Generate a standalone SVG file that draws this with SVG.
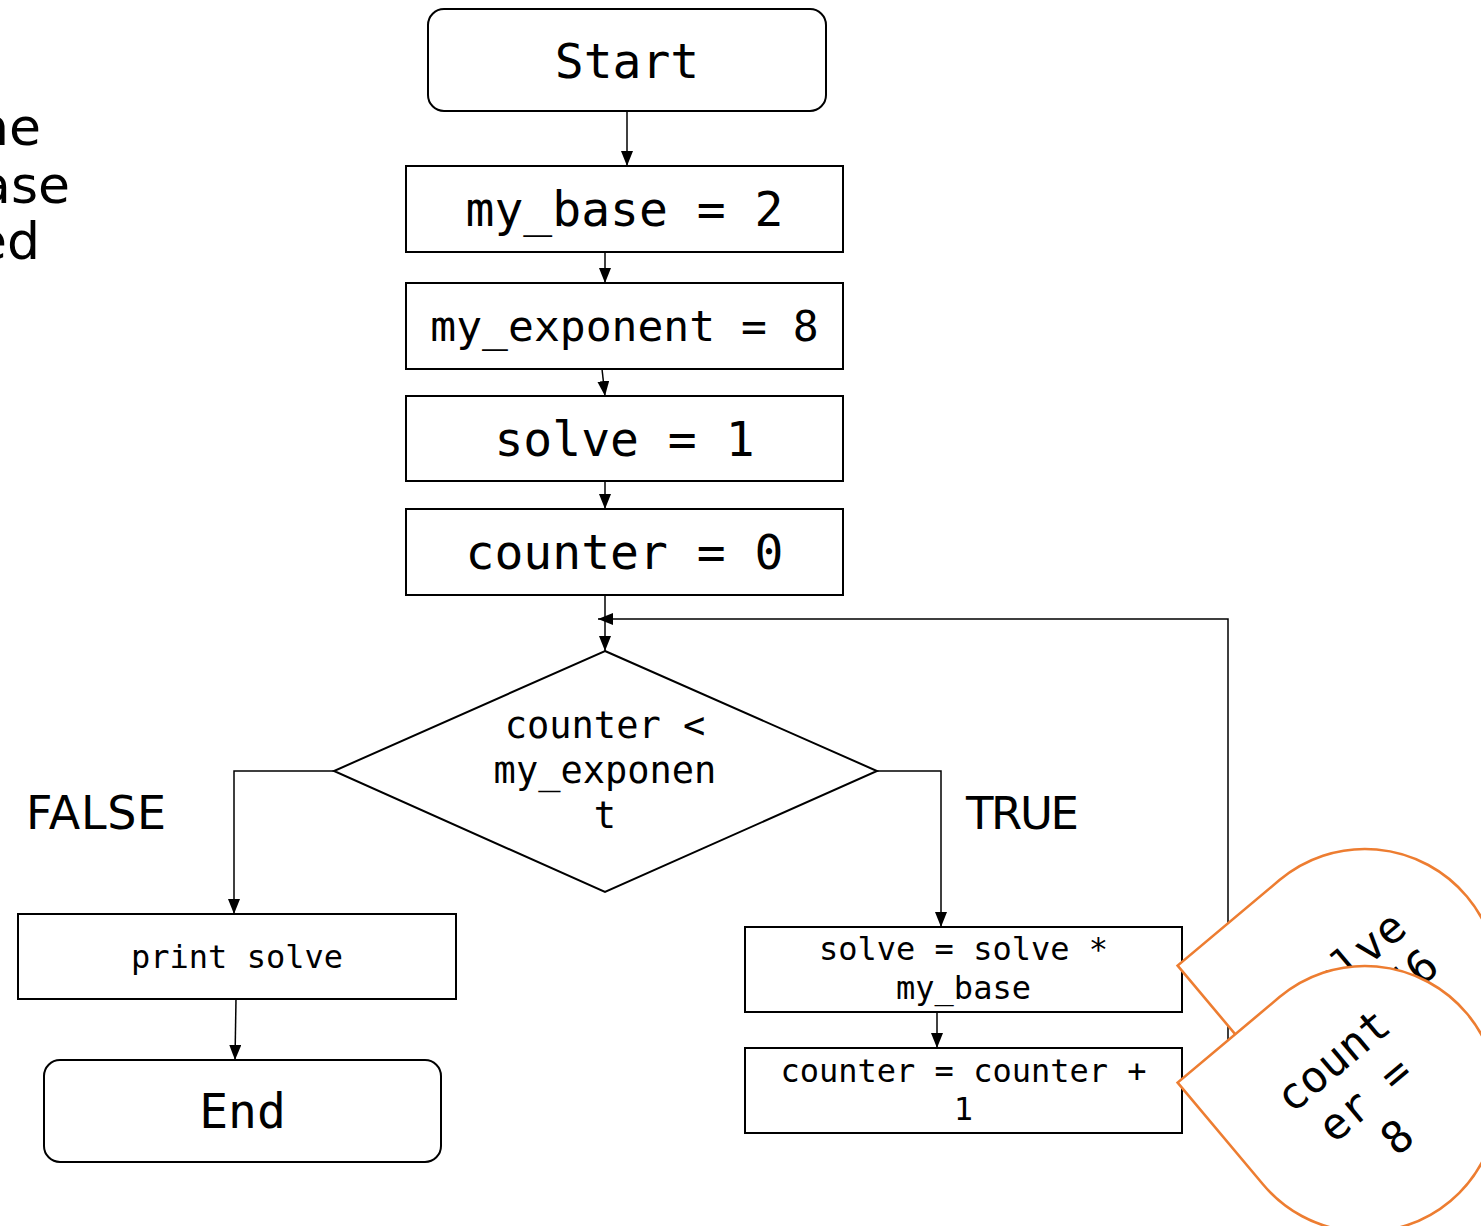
<svg xmlns="http://www.w3.org/2000/svg" width="1481" height="1226" viewBox="0 0 1481 1226">
<style>
.box{fill:#fff;stroke:#000;stroke-width:2}
.m{font-family:"DejaVu Sans Mono","Liberation Mono",monospace;fill:#000;text-anchor:middle}
.s{font-family:"DejaVu Sans","Liberation Sans",sans-serif;fill:#000}
.con{fill:none;stroke:#000;stroke-width:1.5}
.note{fill:#fff;stroke:#ED7D31;stroke-width:2.6}
</style>
<defs>
<marker id="arr" markerUnits="userSpaceOnUse" viewBox="0 0 15 12" markerWidth="15" markerHeight="12" refX="15" refY="6" orient="auto">
<path d="M0,0 L15,6 L0,12 z" fill="#000"/>
</marker>
</defs>
<rect width="1481" height="1226" fill="#fff"/>
<g id="side-text" class="s" font-size="52" text-anchor="end">
<text x="41" y="145">ne</text>
<text x="70" y="203">ase</text>
<text x="40" y="259">ed</text>
</g>
<g id="connectors">
<path class="con" d="M627,111 V166" marker-end="url(#arr)"/>
<path class="con" d="M605,252 V283" marker-end="url(#arr)"/>
<path class="con" d="M602,369 L605,396" marker-end="url(#arr)"/>
<path class="con" d="M605,481 V509" marker-end="url(#arr)"/>
<path class="con" d="M605,595 V651" marker-end="url(#arr)"/>
<path class="con" d="M1182,1090 H1228 V619 H598" marker-end="url(#arr)"/>
<path class="con" d="M334,771 H234 V914" marker-end="url(#arr)"/>
<path class="con" d="M877,771 H941 V927" marker-end="url(#arr)"/>
<path class="con" d="M236,999 L235,1060" marker-end="url(#arr)"/>
<path class="con" d="M937,1012 V1048" stroke-width="2" marker-end="url(#arr)"/>
</g>
<g id="start"><rect class="box" x="428" y="9" width="398" height="102" rx="16"/><text class="m" x="627" y="78" font-size="48">Start</text></g>
<g id="my-base"><rect class="box" x="406" y="166" width="437" height="86"/><text class="m" x="624.5" y="226" font-size="48">my_base = 2</text></g>
<g id="my-exponent"><rect class="box" x="406" y="283" width="437" height="86"/><text class="m" x="624.5" y="341" font-size="43">my_exponent = 8</text></g>
<g id="solve-init"><rect class="box" x="406" y="396" width="437" height="85"/><text class="m" x="624.5" y="456" font-size="48">solve = 1</text></g>
<g id="counter-init"><rect class="box" x="406" y="509" width="437" height="86"/><text class="m" x="624.5" y="569" font-size="48">counter = 0</text></g>
<g id="decision"><path class="box" d="M605,651 L877,771 L605,892 L334,771 Z"/>
<text class="m" font-size="37"><tspan x="605" y="738">counter &lt;</tspan><tspan x="605" y="783">my_exponen</tspan><tspan x="605" y="828">t</tspan></text></g>
<g id="false-label"><text class="s" x="26" y="829" font-size="46" textLength="140">FALSE</text></g>
<g id="true-label"><text class="s" x="966" y="829" font-size="45" textLength="113">TRUE</text></g>
<g id="print-solve"><rect class="box" x="18" y="914" width="438" height="85"/><text class="m" x="237" y="968" font-size="32">print solve</text></g>
<g id="end"><rect class="box" x="44" y="1060" width="397" height="102" rx="16"/><text class="m" x="242.5" y="1128" font-size="48">End</text></g>
<g id="solve-update"><rect class="box" x="745" y="927" width="437" height="85"/>
<text class="m" font-size="32"><tspan x="963.5" y="960">solve = solve *</tspan><tspan x="963.5" y="999">my_base</tspan></text></g>
<g id="counter-update"><rect class="box" x="745" y="1048" width="437" height="85"/>
<text class="m" font-size="32"><tspan x="963.5" y="1082">counter = counter +</tspan><tspan x="963.5" y="1120">1</tspan></text></g>
<g id="note-solve" transform="translate(1365,982) rotate(-40)">
<path class="note" d="M-133,0 L-133,-133 L0,-133 A133,133 0 1 1 -133,0 Z"/>
<text class="m" font-size="44"><tspan x="0" y="-10">solve</tspan><tspan x="0" y="40">= 256</tspan></text>
</g>
<g id="note-counter" transform="translate(1365,1099) rotate(-40)">
<path class="note" d="M-133,0 L-133,-133 L0,-133 A133,133 0 1 1 -133,0 Z"/>
<text class="m" font-size="44"><tspan x="0" y="-35">count</tspan><tspan x="0" y="15">er =</tspan><tspan x="0" y="65">8</tspan></text>
</g>
</svg>
